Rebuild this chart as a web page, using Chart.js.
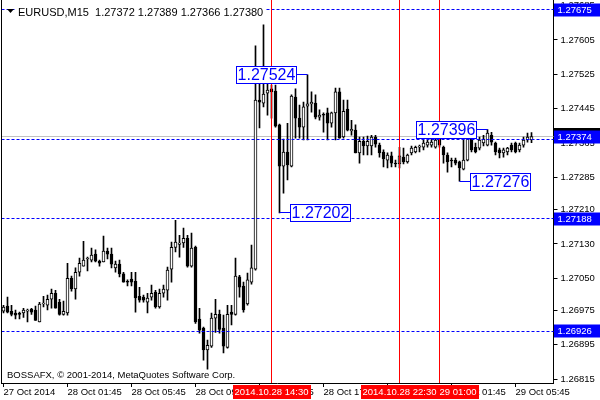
<!DOCTYPE html>
<html>
<head>
<meta charset="utf-8">
<script src="https://cdn.jsdelivr.net/npm/chart.js@4.4.0/dist/chart.umd.min.js"></script>
<style>
    html, body { margin: 0; padding: 0; background: #fff; }
</style>
</head>
<body>
<canvas id="chart_canvas" width="600" height="400"></canvas>
<script>
// EURUSD M15, one value per bar (bar 0 = 27 Oct 2014 21:45)
const opens = [
    1.26973, 1.26985, 1.26973, 1.26969, 1.26969, 1.26969, 1.26973, 1.26978, 1.26976, 1.26948,
    1.26990, 1.26987, 1.27001, 1.27015, 1.26994, 1.26966, 1.26969, 1.27050, 1.27025, 1.27064,
    1.27078, 1.27095, 1.27092, 1.27106, 1.27090, 1.27088, 1.27113, 1.27106, 1.27074, 1.27083,
    1.27060, 1.27043, 1.27048, 1.27043, 1.27008, 1.27006, 1.26994, 1.27006, 1.27018, 1.26983,
    1.27015, 1.27022, 1.27071, 1.27122, 1.27129, 1.27132, 1.27143, 1.27078, 1.27122, 1.26955,
    1.26934, 1.26883, 1.26892, 1.26957, 1.26966, 1.26934, 1.26889, 1.26971, 1.26966, 1.27053,
    1.27032, 1.26990, 1.27041, 1.27071, 1.27465, 1.27458, 1.27481, 1.27491, 1.27486, 1.27407,
    1.27311, 1.27344, 1.27311, 1.27472, 1.27423, 1.27402, 1.27451, 1.27456, 1.27458, 1.27425,
    1.27432, 1.27435, 1.27411, 1.27435, 1.27484, 1.27379, 1.27444, 1.27393, 1.27395, 1.27342,
    1.27369, 1.27358, 1.27358, 1.27379, 1.27360, 1.27344, 1.27325, 1.27335, 1.27318, 1.27316,
    1.27332, 1.27321, 1.27342, 1.27344, 1.27355, 1.27355, 1.27360, 1.27360, 1.27355, 1.27374,
    1.27355, 1.27337, 1.27325, 1.27325, 1.27321, 1.27304, 1.27325, 1.27381, 1.27355, 1.27353,
    1.27365, 1.27360, 1.27383, 1.27365, 1.27349, 1.27342, 1.27344, 1.27360, 1.27365, 1.27349,
    1.27360, 1.27372, 1.27372
];
const highs = [
    1.26987, 1.27006, 1.26987, 1.26976, 1.26971, 1.26980, 1.26978, 1.26980, 1.26985, 1.26994,
    1.27008, 1.27011, 1.27025, 1.27022, 1.27001, 1.26997, 1.27085, 1.27055, 1.27074, 1.27097,
    1.27136, 1.27099, 1.27120, 1.27116, 1.27092, 1.27148, 1.27120, 1.27120, 1.27090, 1.27092,
    1.27064, 1.27046, 1.27064, 1.27064, 1.27029, 1.27011, 1.27015, 1.27034, 1.27022, 1.27025,
    1.27034, 1.27076, 1.27134, 1.27185, 1.27150, 1.27167, 1.27150, 1.27155, 1.27125, 1.26980,
    1.26936, 1.26906, 1.26969, 1.27001, 1.26976, 1.26964, 1.26987, 1.26987, 1.27097, 1.27057,
    1.27041, 1.27062, 1.27127, 1.27591, 1.27505, 1.27640, 1.27512, 1.27500, 1.27500, 1.27409,
    1.27374, 1.27411, 1.27477, 1.27491, 1.27453, 1.27460, 1.27524, 1.27484, 1.27477, 1.27442,
    1.27435, 1.27446, 1.27437, 1.27493, 1.27493, 1.27465, 1.27465, 1.27418, 1.27407, 1.27379,
    1.27379, 1.27381, 1.27383, 1.27383, 1.27365, 1.27349, 1.27342, 1.27344, 1.27325, 1.27355,
    1.27353, 1.27339, 1.27358, 1.27358, 1.27360, 1.27372, 1.27372, 1.27376, 1.27379, 1.27379,
    1.27358, 1.27342, 1.27330, 1.27330, 1.27323, 1.27388, 1.27393, 1.27388, 1.27365, 1.27379,
    1.27383, 1.27396, 1.27390, 1.27367, 1.27353, 1.27353, 1.27355, 1.27365, 1.27367, 1.27365,
    1.27379, 1.27388, 1.27389
];
const lows = [
    1.26969, 1.26969, 1.26962, 1.26955, 1.26955, 1.26959, 1.26948, 1.26966, 1.26952, 1.26948,
    1.26983, 1.26976, 1.26980, 1.26980, 1.26964, 1.26964, 1.26964, 1.27020, 1.27001, 1.27055,
    1.27078, 1.27067, 1.27088, 1.27088, 1.27078, 1.27088, 1.27095, 1.27074, 1.27064, 1.27053,
    1.27041, 1.27032, 1.27032, 1.26971, 1.26994, 1.26994, 1.26969, 1.26999, 1.26980, 1.26980,
    1.27006, 1.26999, 1.27041, 1.27111, 1.27099, 1.27122, 1.27076, 1.27076, 1.26945, 1.26922,
    1.26859, 1.26838, 1.26889, 1.26924, 1.26922, 1.26876, 1.26887, 1.26941, 1.26964, 1.27006,
    1.26971, 1.26987, 1.27036, 1.27069, 1.27400, 1.27449, 1.27430, 1.27423, 1.27402, 1.27202,
    1.27248, 1.27279, 1.27309, 1.27376, 1.27376, 1.27372, 1.27372, 1.27437, 1.27421, 1.27418,
    1.27390, 1.27372, 1.27402, 1.27372, 1.27376, 1.27376, 1.27393, 1.27383, 1.27342, 1.27318,
    1.27337, 1.27337, 1.27337, 1.27355, 1.27332, 1.27309, 1.27307, 1.27309, 1.27309, 1.27307,
    1.27316, 1.27318, 1.27337, 1.27342, 1.27344, 1.27349, 1.27355, 1.27355, 1.27353, 1.27355,
    1.27318, 1.27297, 1.27309, 1.27314, 1.27276, 1.27302, 1.27323, 1.27344, 1.27342, 1.27349,
    1.27358, 1.27358, 1.27360, 1.27337, 1.27330, 1.27332, 1.27337, 1.27344, 1.27342, 1.27344,
    1.27355, 1.27367, 1.27366
];
const closes = [
    1.26983, 1.26971, 1.26966, 1.26964, 1.26966, 1.26976, 1.26976, 1.26971, 1.26952, 1.26990,
    1.26992, 1.27001, 1.27015, 1.26980, 1.26966, 1.26973, 1.27050, 1.27025, 1.27064, 1.27085,
    1.27092, 1.27097, 1.27104, 1.27090, 1.27085, 1.27113, 1.27106, 1.27083, 1.27083, 1.27060,
    1.27041, 1.27041, 1.27041, 1.27004, 1.26999, 1.26999, 1.27004, 1.27015, 1.26983, 1.27015,
    1.27025, 1.27069, 1.27122, 1.27134, 1.27132, 1.27143, 1.27078, 1.27120, 1.26948, 1.26929,
    1.26883, 1.26894, 1.26957, 1.26966, 1.26931, 1.26892, 1.26966, 1.26966, 1.27055, 1.27029,
    1.26976, 1.27046, 1.27074, 1.27465, 1.27460, 1.27479, 1.27488, 1.27484, 1.27404, 1.27311,
    1.27344, 1.27314, 1.27474, 1.27423, 1.27402, 1.27449, 1.27456, 1.27460, 1.27425, 1.27430,
    1.27430, 1.27411, 1.27435, 1.27484, 1.27376, 1.27439, 1.27395, 1.27397, 1.27342, 1.27369,
    1.27358, 1.27369, 1.27379, 1.27362, 1.27342, 1.27328, 1.27337, 1.27318, 1.27316, 1.27335,
    1.27321, 1.27337, 1.27353, 1.27355, 1.27358, 1.27365, 1.27367, 1.27367, 1.27372, 1.27360,
    1.27337, 1.27321, 1.27323, 1.27318, 1.27307, 1.27325, 1.27379, 1.27349, 1.27344, 1.27372,
    1.27374, 1.27388, 1.27367, 1.27344, 1.27342, 1.27349, 1.27353, 1.27349, 1.27344, 1.27360,
    1.27372, 1.27379, 1.27380
];

const shiftBars = 5;     // empty bars kept right of the last candle
const xTickEvery = 16;   // a time label every 4 hours
const xTickLabels = ['27 Oct 2014', '28 Oct 01:45', '28 Oct 05:45', '28 Oct 09:45', '28 Oct 13:45',
    '28 Oct 17:45', '28 Oct 21:45', '29 Oct 01:45', '29 Oct 05:45'];
const yTickValues = [1.27685, 1.27605, 1.27525, 1.27445, 1.27365, 1.27285, 1.27210, 1.27130,
    1.27050, 1.26975, 1.26895, 1.26815];
const priceMin = 1.26806;
const priceMax = 1.27698;

const levelLines = [1.27675, 1.27374, 1.27188, 1.26926];
const bidPrice = 1.27380;
const markedBars = [67, 99, 109];
const markedBarLabels = ['2014.10.28 14:30', '2014.10.28 22:30', '2014.10.29 01:00'];
const noteBars = [76, 69, 121, 114];
const notePrices = [1.27524, 1.27202, 1.27396, 1.27276];

const headerText = 'EURUSD,M15  1.27372 1.27389 1.27366 1.27380';
const footerText = 'BOSSAFX, \u00A9 2001-2014, MetaQuotes Software Corp.';

const FONT = '"Liberation Sans", Arial, sans-serif';
const SMALL = '9.5px ' + FONT;

const barCount = opens.length;
const labels = [];
for (let i = 0; i < barCount + shiftBars; i++) labels.push(i);

const bodies = opens.map((o, i) => [o, closes[i]]);
const wicks = lows.map((l, i) => [l, highs[i]]);

function hline(ctx, x1, x2, y) {
    ctx.beginPath();
    ctx.moveTo(x1, y);
    ctx.lineTo(x2, y);
    ctx.stroke();
}

function vline(ctx, x, y1, y2) {
    ctx.beginPath();
    ctx.moveTo(x, y1);
    ctx.lineTo(x, y2);
    ctx.stroke();
}

const crisp = v => Math.round(v - 0.5) + 0.5;

// keep the plot filling the canvas: no room reserved for half tick labels
function noLabelPadding(s) {
    s.paddingTop = 0;
    s.paddingBottom = 0;
    s.paddingLeft = 0;
    s.paddingRight = 0;
}

const overlay = {
    id: 'overlay',
    beforeDatasetsDraw(chart) {
        const { ctx, chartArea: a, scales: { y } } = chart;
        ctx.save();
        ctx.strokeStyle = '#c0c0c0';
        ctx.lineWidth = 1;
        hline(ctx, a.left, a.right, crisp(y.getPixelForValue(bidPrice)));
        ctx.restore();
    },
    afterDatasetsDraw(chart) {
        const { ctx, chartArea: a, scales: { x, y } } = chart;
        ctx.save();
        ctx.lineWidth = 1;

        // horizontal levels
        ctx.strokeStyle = '#0000ff';
        ctx.setLineDash([3, 2]);
        levelLines.forEach(p => hline(ctx, a.left, a.right, crisp(y.getPixelForValue(p))));
        ctx.setLineDash([]);

        // vertical time markers
        ctx.strokeStyle = '#ff0000';
        markedBars.forEach(b => vline(ctx, x.getPixelForValue(b), a.top, a.bottom));
        ctx.restore();
    },
    afterDraw(chart) {
        const { ctx, chartArea: a, scales: { x, y } } = chart;
        ctx.save();

        // left frame
        ctx.strokeStyle = '#000';
        ctx.lineWidth = 1;
        vline(ctx, crisp(a.left), a.top, a.bottom);

        // price notes with leader lines
        ctx.font = '16px ' + FONT;
        ctx.textBaseline = 'middle';
        ctx.textAlign = 'center';
        noteBars.forEach((b, i) => {
            const px = x.getPixelForValue(b);
            const py = crisp(y.getPixelForValue(notePrices[i]));
            const txt = notePrices[i].toFixed(5);
            const w = Math.ceil(ctx.measureText(txt).width) + 3;
            const h = 18;
            const onHigh = notePrices[i] >= highs[b];
            const bx = onHigh ? Math.round(px - 10.5 - w) : Math.round(px + 10.5);
            const by = Math.round(py - h / 2);
            ctx.strokeStyle = '#0000ff';
            hline(ctx, px, onHigh ? bx + w : bx, py);
            ctx.fillStyle = '#fff';
            ctx.fillRect(bx, by, w, h);
            ctx.strokeRect(bx + 0.5, by + 0.5, w - 1, h - 1);
            ctx.fillStyle = '#0000ff';
            ctx.fillText(txt, bx + w / 2, by + h / 2 + 1);
        });

        // price tags on the right axis (bid tag sits under the level tag)
        ctx.font = SMALL;
        ctx.textAlign = 'left';
        const bidY = Math.round(y.getPixelForValue(bidPrice));
        ctx.fillStyle = '#000';
        ctx.fillRect(a.right + 0.5, bidY - 9, chart.width - a.right, 13);
        levelLines.forEach(p => {
            let py = Math.round(y.getPixelForValue(p));
            if (Math.abs(py - bidY) < 7) py = bidY;
            ctx.fillStyle = '#0000ff';
            ctx.fillRect(a.right + 0.5, py - 6.5, chart.width - a.right, 13);
            ctx.fillStyle = '#fff';
            ctx.fillText(p.toFixed(5), a.right + 4, py + 0.5);
        });

        // time tags under the markers, later ones first so earlier ones sit on top
        ctx.textAlign = 'center';
        for (let i = markedBars.length - 1; i >= 0; i--) {
            const px = x.getPixelForValue(markedBars[i]);
            const w = Math.ceil(ctx.measureText(markedBarLabels[i]).width) + 4;
            ctx.fillStyle = '#ff0000';
            ctx.fillRect(Math.round(px - w / 2), a.bottom + 2, w, 14);
            ctx.fillStyle = '#fff';
            ctx.fillText(markedBarLabels[i], px, a.bottom + 9.5);
        }

        // footer
        ctx.textAlign = 'left';
        ctx.textBaseline = 'alphabetic';
        ctx.fillStyle = '#000';
        ctx.fillText(footerText, 7, 378);

        // header
        ctx.font = '11px ' + FONT;
        const hw = ctx.measureText(headerText).width;
        ctx.fillStyle = '#fff';
        ctx.fillRect(16, 3, hw + 4, 14);
        ctx.fillStyle = '#000';
        ctx.fillText(headerText, 18, 16);
        ctx.beginPath();
        ctx.moveTo(7, 9);
        ctx.lineTo(14, 9);
        ctx.lineTo(10.5, 13);
        ctx.closePath();
        ctx.fill();
        ctx.restore();
    }
};

const ctx = document.getElementById('chart_canvas').getContext('2d');
const chart = new Chart(ctx, {
    type: 'bar',
    data: {
        labels: labels,
        datasets: [{
            label: 'body',
            data: bodies,
            grouped: false,
            barThickness: 3,
            borderWidth: 1,
            borderSkipped: false,
            borderColor: '#000',
            backgroundColor: c => closes[c.dataIndex] >= opens[c.dataIndex] ? '#fff' : '#000',
            order: 0
        }, {
            label: 'wick',
            data: wicks,
            grouped: false,
            barThickness: 1,
            borderWidth: 0,
            backgroundColor: '#000',
            order: 1
        }]
    },
    options: {
        responsive: false,
        animation: false,
        devicePixelRatio: 1,
        layout: { padding: { left: 1.5, right: 0, top: 0, bottom: 0 } },
        plugins: {
            legend: { display: false },
            tooltip: { enabled: false }
        },
        scales: {
            x: {
                type: 'category',
                offset: true,
                afterBuildTicks: s => { s.ticks = s.ticks.filter(t => t.value % xTickEvery === 0); },
                afterFit: s => { s.height = 17; noLabelPadding(s); },
                ticks: {
                    autoSkip: false,
                    maxRotation: 0,
                    align: 'start',
                    padding: 0,
                    color: '#000',
                    font: { family: FONT, size: 9.5 },
                    callback: v => xTickLabels[v / xTickEvery] || ''
                },
                grid: { offset: false, drawOnChartArea: false, tickLength: 4, color: '#000' },
                border: { color: '#000' }
            },
            y: {
                position: 'right',
                min: priceMin,
                max: priceMax,
                afterBuildTicks: s => { s.ticks = yTickValues.map(v => ({ value: v })); },
                afterFit: s => { s.width = 46.5; noLabelPadding(s); },
                ticks: {
                    autoSkip: false,
                    padding: 3,
                    color: '#000',
                    font: { family: FONT, size: 9.5 },
                    callback: v => v.toFixed(5)
                },
                grid: { drawOnChartArea: false, tickLength: 4, color: '#000' },
                border: { color: '#000' }
            }
        }
    },
    plugins: [overlay]
});
</script>
</body>
</html>
